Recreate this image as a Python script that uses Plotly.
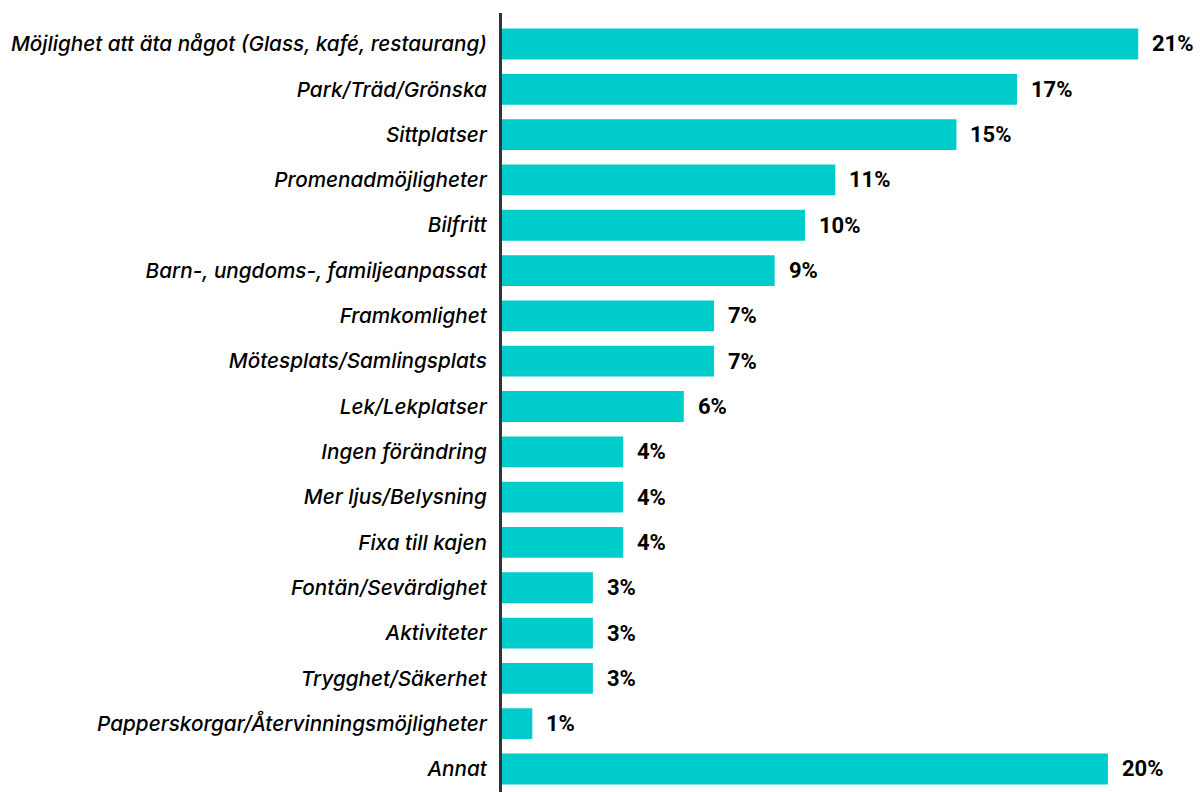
import plotly.graph_objects as go

categories = [
    "Möjlighet att äta något (Glass, kafé, restaurang)",
    "Park/Träd/Grönska",
    "Sittplatser",
    "Promenadmöjligheter",
    "Bilfritt",
    "Barn-, ungdoms-, familjeanpassat",
    "Framkomlighet",
    "Mötesplats/Samlingsplats",
    "Lek/Lekplatser",
    "Ingen förändring",
    "Mer ljus/Belysning",
    "Fixa till kajen",
    "Fontän/Sevärdighet",
    "Aktiviteter",
    "Trygghet/Säkerhet",
    "Papperskorgar/Återvinningsmöjligheter",
    "Annat",
]
values = [21, 17, 15, 11, 10, 9, 7, 7, 6, 4, 4, 4, 3, 3, 3, 1, 20]
value_labels = [f"{v}%" for v in values]

fig = go.Figure(
    go.Bar(
        x=values,
        y=categories,
        orientation="h",
        marker=dict(color="#00CCCC", line=dict(width=0)),
        width=0.68,
        hoverinfo="skip",
    )
)

for cat, v, lab in zip(categories, values, value_labels):
    fig.add_annotation(
        x=v, y=cat, text=lab, showarrow=False,
        xanchor="left", yanchor="middle", xshift=12,
        font=dict(family="Roboto", size=22, color="#000000", weight="bold"),
    )

fig.update_layout(
    width=1200, height=792,
    margin=dict(l=502, r=0, t=13, b=0),
    paper_bgcolor="white", plot_bgcolor="white",
    showlegend=False,
    xaxis=dict(
        range=[0, 23.04], showgrid=False, zeroline=False,
        showticklabels=False, showline=False,
    ),
    yaxis=dict(
        type="category", categoryorder="array", categoryarray=categories,
        range=[16.508, -0.684], showgrid=False, zeroline=False,
        showline=True, linecolor="#333333", linewidth=3,
        ticks="", ticklabelstandoff=8,
        tickfont=dict(family="Inter", size=20.7, color="#000000",
                      style="italic", weight=500),
    ),
)

fig.write_html("out.html")
